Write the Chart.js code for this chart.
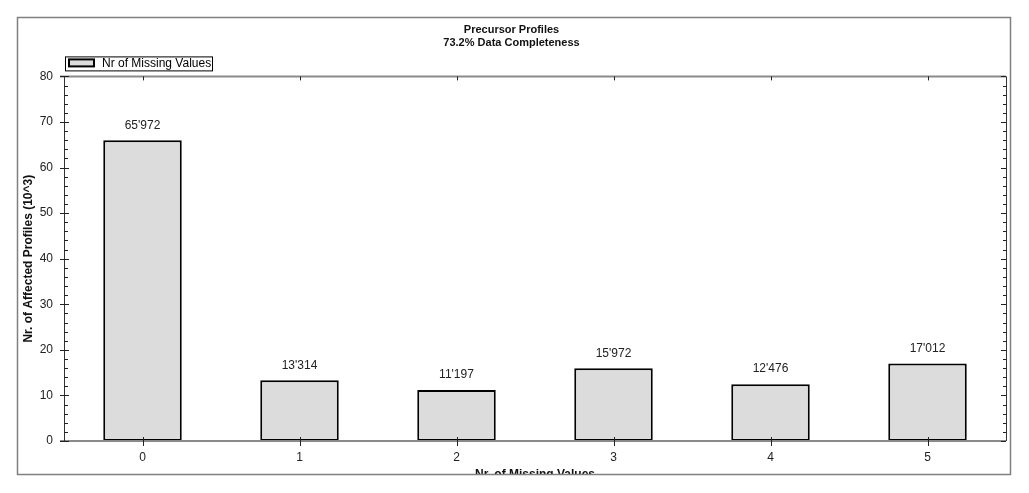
<!DOCTYPE html>
<html>
<head>
<meta charset="utf-8">
<script src="https://cdn.jsdelivr.net/npm/chart.js@4"></script>
<style>
  body { margin: 0; background: #fff; }
  #wrap { width: 1029px; height: 493px; }
</style>
</head>
<body>
<div id="wrap"><canvas id="chart" width="1029" height="493"></canvas></div>
<script>
// data
const categories = ['0', '1', '2', '3', '4', '5'];
const profileCounts = [65972, 13314, 11197, 15972, 12476, 17012];
const yTicks = [0, 10, 20, 30, 40, 50, 60, 70, 80];
const titleLines = ['Precursor Profiles', '73.2% Data Completeness'];

const FONT = 'Arial, "Liberation Sans", sans-serif';

function fmt(n) {
    return String(n).replace(/\B(?=(\d{3})+(?!\d))/g, "'");
}

// frame, axes, ticks, legend and value labels
const decor = {
    id: 'decor',
    afterDraw(chart) {
        const ctx = chart.ctx;
        const a = chart.chartArea;
        const x = chart.scales.x, y = chart.scales.y;
        ctx.save();

        // clip the x title at the frame like the original
        ctx.fillStyle = '#fff';
        ctx.fillRect(0, 475, chart.width, chart.height - 475);

        // outer frame
        ctx.strokeStyle = '#808080';
        ctx.lineWidth = 1.5;
        ctx.strokeRect(17.5, 17.5, 993, 457);

        // plot borders
        ctx.strokeStyle = '#8a8a8a';
        ctx.lineWidth = 2;
        ctx.beginPath();
        ctx.moveTo(60, a.top); ctx.lineTo(a.right, a.top);
        ctx.moveTo(60, a.bottom); ctx.lineTo(a.right, a.bottom);
        ctx.stroke();
        ctx.strokeStyle = '#333';
        ctx.lineWidth = 1;
        ctx.beginPath();
        ctx.moveTo(a.left + 0.5, a.top); ctx.lineTo(a.left + 0.5, a.bottom);
        ctx.moveTo(a.right + 0.5, a.top); ctx.lineTo(a.right + 0.5, a.bottom);
        ctx.stroke();

        // y ticks, major and minor, on both sides
        ctx.strokeStyle = '#222';
        ctx.beginPath();
        for (let v = y.min; v <= y.max; v += 2) {
            const py = Math.round(y.getPixelForValue(v)) + 0.5;
            const major = v % 10 === 0;
            ctx.moveTo(major ? a.left - 4 : a.left, py);
            ctx.lineTo(a.left + (major ? 5 : 4), py);
            ctx.moveTo(a.right - (major ? 5 : 3), py);
            ctx.lineTo(a.right, py);
        }
        // x ticks on bottom and top
        categories.forEach((c, i) => {
            const px = Math.round(x.getPixelForValue(i)) + 0.5;
            ctx.moveTo(px, a.bottom - 4); ctx.lineTo(px, a.bottom + 5);
            ctx.moveTo(px, a.top); ctx.lineTo(px, a.top + 4);
        });
        ctx.stroke();

        // value labels above bars
        const ds = chart.data.datasets[0];
        const meta = chart.getDatasetMeta(0);
        ctx.fillStyle = '#222';
        ctx.font = '12px ' + FONT;
        ctx.textAlign = 'center';
        ctx.textBaseline = 'middle';
        meta.data.forEach((bar, i) => {
            ctx.fillText(fmt(profileCounts[i]), bar.x, bar.y - 15);
        });

        // legend box
        const lx = a.left + 1, ly = a.top - 20;
        ctx.strokeStyle = '#000';
        ctx.lineWidth = 1;
        ctx.fillStyle = '#fff';
        ctx.fillRect(lx, ly, 147, 14);
        ctx.strokeRect(lx + 0.5, ly + 0.5, 147, 14);
        ctx.fillStyle = ds.backgroundColor;
        ctx.fillRect(lx + 4, ly + 3, 25, 7);
        ctx.lineWidth = 2;
        ctx.strokeRect(lx + 4, ly + 3, 25, 7);
        ctx.fillStyle = '#000';
        ctx.textAlign = 'left';
        ctx.fillText(ds.label, lx + 37, ly + 7.5);

        ctx.restore();
    }
};

new Chart(document.getElementById('chart'), {
    type: 'bar',
    data: {
        labels: categories,
        datasets: [{
            label: 'Nr of Missing Values',
            data: profileCounts.map(v => v / 1000),
            backgroundColor: '#dcdcdc',
            borderColor: '#000',
            borderWidth: 2,
            borderSkipped: false,
            barPercentage: 0.5,
            categoryPercentage: 1
        }]
    },
    options: {
        responsive: false,
        animation: false,
        layout: { padding: { left: 17, right: 23, top: 17, bottom: 0 } },
        plugins: {
            legend: { display: false },
            tooltip: { enabled: false },
            title: {
                display: true,
                text: titleLines,
                color: '#111',
                font: { family: FONT, size: 11, weight: 'bold', lineHeight: 1.2 },
                padding: { top: 6, bottom: 27 }
            }
        },
        scales: {
            x: {
                grid: { display: false, drawTicks: false },
                border: { display: false },
                ticks: { color: '#222', font: { family: FONT, size: 12 }, padding: 9 },
                title: {
                    display: true,
                    text: 'Nr. of Missing Values',
                    color: '#111',
                    font: { family: FONT, size: 12, weight: 'bold', lineHeight: 1.2 },
                    padding: { top: 0, bottom: 11 }
                },
                afterFit(s) { s.height = 52; }
            },
            y: {
                min: 0,
                max: 80,
                grid: { display: false, drawTicks: false },
                border: { display: false },
                afterBuildTicks(s) { s.ticks = yTicks.map(v => ({ value: v })); },
                ticks: { color: '#222', font: { family: FONT, size: 12 }, padding: 11 },
                title: {
                    display: true,
                    text: 'Nr. of Affected Profiles (10^3)',
                    color: '#111',
                    font: { family: FONT, size: 12, weight: 'bold', lineHeight: 1.2 },
                    padding: { top: 4, bottom: 0 }
                },
                afterFit(s) { s.width = 47; }
            }
        }
    },
    plugins: [decor]
});
</script>
</body>
</html>
